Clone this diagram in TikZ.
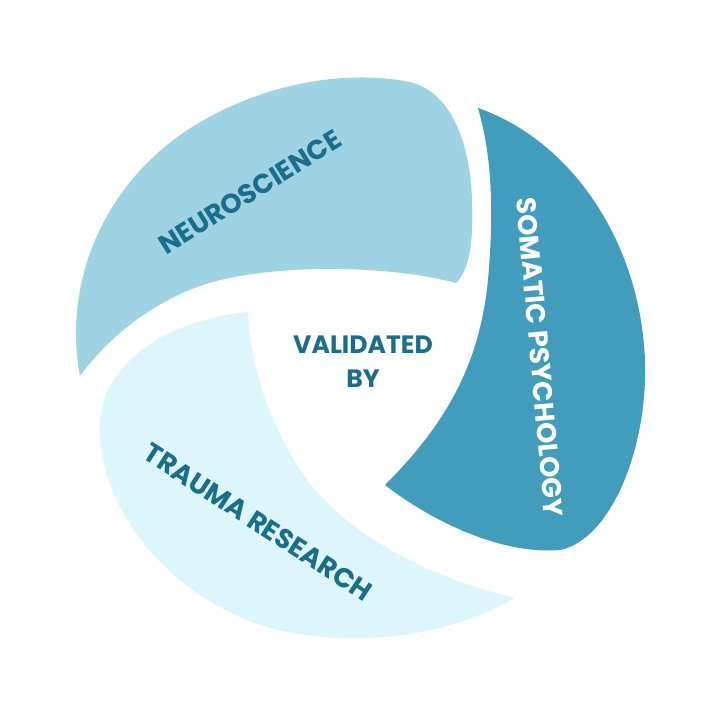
\documentclass[tikz,border=0pt]{standalone}
\usepackage{fontspec}
\setmainfont{Poppins}
\definecolor{cneuro}{HTML}{9DD3E3}
\definecolor{csoma}{HTML}{419DBB}
\definecolor{ctrauma}{HTML}{DDF6FB}
\definecolor{ctext}{HTML}{1A6E8C}
\begin{document}
\begin{tikzpicture}[x=0.35mm,y=-0.35mm,
  lbl/.style={font=\fontsize{27}{30}\selectfont\bfseries, inner sep=0pt}]
\useasboundingbox[fill=white] (0,0) rectangle (720,720);
% Neuroscience
\fill[cneuro] (80,376) .. controls (65,300) and (90,200) .. (180,135)
  .. controls (260,80) and (350,70) .. (410,82)
  .. controls (450,92) and (470,140) .. (472,200)
  .. controls (474,245) and (468,272) .. (456,283)
  .. controls (400,268) and (300,262) .. (220,280)
  .. controls (160,295) and (110,335) .. (80,376) -- cycle;
% Somatic
\fill[csoma] (478,108) .. controls (570,140) and (640,240) .. (645,360)
  .. controls (648,450) and (610,540) .. (560,550)
  .. controls (500,555) and (430,520) .. (385,485)
  .. controls (450,420) and (480,360) .. (488,280)
  .. controls (495,200) and (490,150) .. (478,108) -- cycle;
% Trauma
\fill[ctrauma] (248,312) .. controls (170,320) and (105,360) .. (100,420)
  .. controls (95,500) and (160,590) .. (260,625)
  .. controls (360,655) and (460,630) .. (515,598)
  .. controls (420,575) and (340,530) .. (300,470)
  .. controls (265,415) and (250,360) .. (248,312) -- cycle;
\node[lbl, text=ctext, rotate=32] (n) at (250,192) {NEUROSCIENCE};
\node[lbl, text=white, rotate=-85] (s) at (540,357) {SOMATIC PSYCHOLOGY};
\node[lbl, text=ctext, rotate=-33] (t) at (258,522) {TRAUMA RESEARCH};
\node[lbl, text=ctext, align=center, font=\fontsize{25}{34}\selectfont\bfseries] (v) at (363,362) {VALIDATED\\BY};
\end{tikzpicture}
\end{document}
